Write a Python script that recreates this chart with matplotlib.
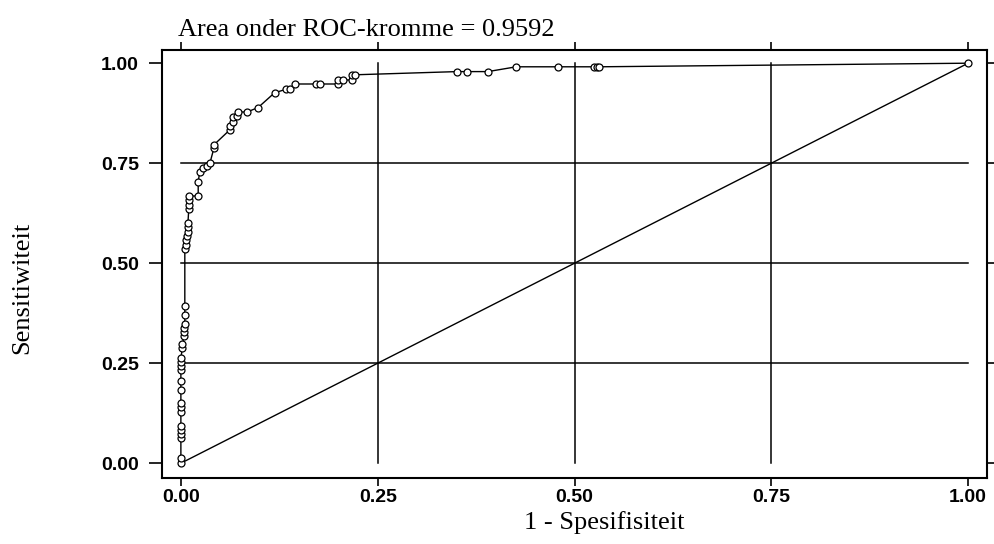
import matplotlib
matplotlib.use("Agg")
import matplotlib.pyplot as plt

# ROC-punte (1 - spesifisiteit, sensitiwiteit) soos van die figuur afgelees
fpr = [0.0, 0.0, 0.0, 0.0, 0.0, 0.0, 0.0, 0.0, 0.0, 0.0, 0.0,
       0.0, 0.0, 0.0, 0.0, 0.002, 0.002, 0.004, 0.004, 0.004, 0.005,
       0.005, 0.005, 0.005, 0.006, 0.007, 0.008, 0.009, 0.009, 0.009,
       0.010, 0.010, 0.010, 0.010, 0.022, 0.022, 0.024, 0.028, 0.033,
       0.037, 0.042, 0.042, 0.062, 0.062, 0.066, 0.066, 0.071, 0.072,
       0.084, 0.098, 0.119, 0.134, 0.138, 0.145, 0.172, 0.177, 0.199,
       0.199, 0.206, 0.217, 0.217, 0.221, 0.351, 0.363, 0.390, 0.426,
       0.479, 0.525, 0.528, 0.531, 1.0]
tpr = [0.0, 0.0125, 0.0625, 0.073, 0.083, 0.093, 0.129, 0.140, 0.150,
       0.183, 0.206, 0.233, 0.243, 0.254, 0.264, 0.288, 0.298, 0.317,
       0.327, 0.337, 0.348, 0.371, 0.393, 0.535, 0.546, 0.557, 0.567,
       0.579, 0.590, 0.601, 0.635, 0.646, 0.657, 0.668, 0.668, 0.704,
       0.729, 0.738, 0.743, 0.751, 0.788, 0.796, 0.833, 0.843, 0.853,
       0.866, 0.868, 0.878, 0.878, 0.889, 0.926, 0.935, 0.935, 0.948,
       0.948, 0.948, 0.948, 0.958, 0.958, 0.958, 0.971, 0.971, 0.979,
       0.979, 0.979, 0.991, 0.991, 0.991, 0.991, 0.991, 1.0]

gridvals = [0.25, 0.5, 0.75]
ticks = [0.0, 0.25, 0.5, 0.75, 1.0]
ticklabels = ["0.00", "0.25", "0.50", "0.75", "1.00"]

serif = "Liberation Serif"
sans = "Liberation Sans"

fig = plt.figure(figsize=(9.95, 5.44), dpi=100)
ax = fig.add_axes([0.1628, 0.1213, 0.8292, 0.7868])

# roosterlyne net binne die datagebied 0..1
for g in gridvals:
    ax.plot([0, 1], [g, g], color="black", lw=1.1, zorder=1)
    ax.plot([g, g], [0, 1], color="black", lw=1.1, zorder=1)

# diagonaal
ax.plot([0, 1], [0, 1], color="black", lw=1.0, zorder=2)

# ROC-kromme
ax.plot(fpr, tpr, color="black", lw=1.0, marker="o", ms=5,
        mfc="white", mec="black", mew=0.9, zorder=3)

ax.set_xlim(-0.024, 1.024)
ax.set_ylim(-0.037, 1.033)
ax.set_xticks(ticks)
ax.set_yticks(ticks)
ax.set_xticklabels(ticklabels, fontfamily=sans, fontsize=14, fontweight="bold")
ax.set_yticklabels(ticklabels, fontfamily=sans, fontsize=14, fontweight="bold")

ax.tick_params(axis="y", direction="out", length=9.5, width=1.2, pad=7,
               right=True)
ax.tick_params(axis="x", direction="out", length=6, width=1.2, pad=2,
               top=True)
for s in ax.spines.values():
    s.set_linewidth(1.5)

fig.text(178 / 995, 1 - 36 / 544, "Area onder ROC-kromme = 0.9592",
         fontfamily=serif, fontsize=19, ha="left", va="baseline")
fig.text(604 / 995, 1 - 523 / 544, "1 - Spesifisiteit",
         fontfamily=serif, fontsize=19, ha="center", va="center")
fig.text(22 / 995, 1 - 288 / 544, "Sensitiwiteit",
         fontfamily=serif, fontsize=19, ha="center", va="center",
         rotation=90)

fig.savefig("out.png", dpi=100)
